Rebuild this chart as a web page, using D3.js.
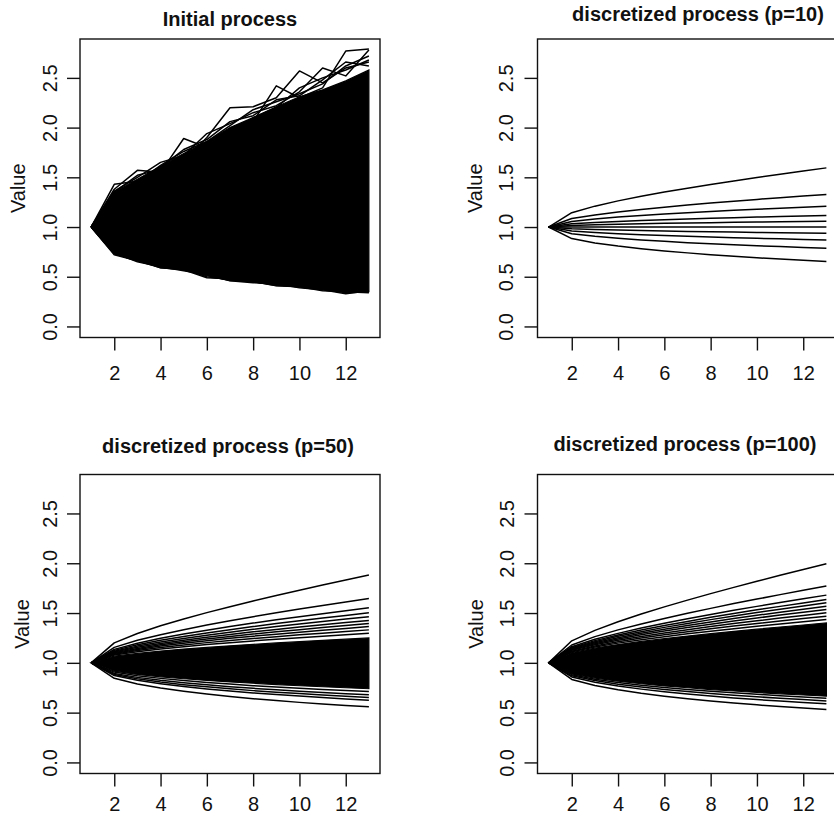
<!DOCTYPE html>
<html><head><meta charset="utf-8">
<script src="https://cdn.jsdelivr.net/npm/d3@7"></script>
<style>
body{margin:0;background:#fff;}
svg{display:block;}
text{font-family:"Liberation Sans",Arial,Helvetica,sans-serif;fill:#111;}
</style>
</head><body>
<svg id="chart" width="834" height="817"></svg>
<script>
// ---------------- DATA ----------------
const timeSteps = [1,2,3,4,5,6,7,8,9,10,11,12,13];
const xTicks = [2,4,6,8,10,12];
const yTicks = [0,0.5,1,1.5,2,2.5];
const yLimits = [0, 2.78];
const titles = ["Initial process","discretized process (p=10)","discretized process (p=50)","discretized process (p=100)"];
const yAxisLabel = "Value";

// Initial process: dense mass of simulated paths (envelope) + visible outlying paths
const initialUpper = [1.00,1.35,1.48,1.61,1.74,1.86,2.00,2.10,2.21,2.31,2.38,2.47,2.58];
const initialLower = [1.00,0.73,0.66,0.59,0.57,0.51,0.46,0.45,0.41,0.40,0.37,0.35,0.35];
const initialPaths = [
  [1.00,1.43,1.46,1.57,1.66,1.90,2.20,2.21,2.30,2.57,2.45,2.60,2.66],
  [1.00,1.38,1.57,1.55,1.89,1.80,1.98,2.06,2.42,2.30,2.40,2.77,2.79],
  [1.00,1.36,1.50,1.65,1.72,1.94,2.04,2.15,2.22,2.36,2.60,2.52,2.78],
  [1.00,1.33,1.45,1.62,1.76,1.86,2.02,2.18,2.26,2.34,2.44,2.62,2.72],
  [1.00,1.35,1.52,1.58,1.70,1.84,1.95,2.10,2.20,2.40,2.50,2.58,2.68],
  [1.00,1.32,1.46,1.60,1.78,1.88,2.06,2.12,2.28,2.32,2.48,2.66,2.62],
  [1.00,0.72,0.66,0.61,0.58,0.50,0.47,0.45,0.42,0.40,0.38,0.34,0.35],
  [1.00,0.74,0.65,0.60,0.56,0.52,0.46,0.44,0.43,0.39,0.37,0.33,0.36],
  [1.00,0.73,0.67,0.59,0.57,0.49,0.48,0.45,0.41,0.40,0.36,0.35,0.34]
];

// discretized process (p=10): the 10 quantizer paths
const p10Paths = [
  [1,1.144,1.210,1.263,1.309,1.352,1.391,1.428,1.464,1.498,1.531,1.564,1.595],
  [1,1.085,1.122,1.152,1.177,1.200,1.221,1.241,1.260,1.278,1.295,1.311,1.327],
  [1,1.056,1.081,1.100,1.116,1.130,1.144,1.156,1.168,1.179,1.189,1.199,1.209],
  [1,1.032,1.046,1.056,1.065,1.073,1.081,1.088,1.094,1.100,1.105,1.111,1.116],
  [1,1.016,1.023,1.029,1.033,1.037,1.041,1.044,1.047,1.050,1.053,1.055,1.058],
  [1,1.000,1.000,1.000,1.000,1.000,1.000,1.000,1.000,1.000,1.000,1.000,1.000],
  [1,0.982,0.974,0.969,0.964,0.960,0.956,0.952,0.949,0.946,0.943,0.941,0.938],
  [1,0.961,0.945,0.933,0.923,0.914,0.906,0.899,0.893,0.886,0.881,0.875,0.870],
  [1,0.933,0.906,0.887,0.870,0.856,0.843,0.832,0.822,0.812,0.803,0.794,0.786],
  [1,0.884,0.840,0.808,0.782,0.760,0.740,0.722,0.706,0.691,0.678,0.665,0.653]
];

// discretized process (p=50): dense central band + distinct outer paths
const p50BandUpper = [1,1.067,1.095,1.118,1.138,1.155,1.171,1.186,1.200,1.213,1.226,1.238,1.250];
const p50BandLower = [1,0.917,0.884,0.860,0.840,0.823,0.808,0.795,0.782,0.770,0.760,0.750,0.740];
const p50Paths = [
  [1,1.200,1.295,1.372,1.441,1.504,1.564,1.621,1.676,1.729,1.781,1.832,1.882],
  [1,1.155,1.226,1.283,1.333,1.380,1.422,1.463,1.502,1.540,1.576,1.611,1.646],
  [1,1.135,1.197,1.246,1.289,1.328,1.365,1.399,1.432,1.463,1.494,1.523,1.552],
  [1,1.125,1.181,1.226,1.265,1.300,1.333,1.364,1.394,1.422,1.450,1.476,1.502],
  [1,1.116,1.168,1.209,1.245,1.278,1.308,1.337,1.364,1.389,1.414,1.439,1.462],
  [1,1.108,1.156,1.194,1.227,1.257,1.285,1.311,1.335,1.359,1.382,1.404,1.425],
  [1,1.101,1.145,1.181,1.211,1.239,1.265,1.289,1.312,1.333,1.354,1.374,1.394],
  [1,1.094,1.135,1.168,1.196,1.222,1.246,1.268,1.288,1.308,1.328,1.346,1.364],
  [1,1.086,1.124,1.154,1.180,1.203,1.224,1.244,1.263,1.281,1.298,1.315,1.331],
  [1,1.078,1.112,1.139,1.162,1.183,1.202,1.220,1.237,1.253,1.268,1.283,1.297],
  [1,0.907,0.871,0.844,0.822,0.803,0.787,0.771,0.758,0.745,0.733,0.722,0.712],
  [1,0.894,0.854,0.824,0.800,0.779,0.761,0.744,0.729,0.715,0.702,0.690,0.679],
  [1,0.884,0.840,0.807,0.781,0.759,0.739,0.721,0.705,0.691,0.677,0.664,0.652],
  [1,0.873,0.825,0.791,0.762,0.738,0.717,0.698,0.681,0.666,0.651,0.638,0.625],
  [1,0.845,0.788,0.747,0.714,0.686,0.662,0.640,0.621,0.603,0.587,0.572,0.558]
];

// discretized process (p=100): dense central band + distinct outer paths
const p100BandUpper = [1,1.102,1.147,1.183,1.215,1.243,1.269,1.293,1.316,1.338,1.360,1.380,1.400];
const p100BandLower = [1,0.889,0.847,0.816,0.790,0.768,0.750,0.732,0.717,0.702,0.689,0.677,0.665];
const p100Paths = [
  [1,1.221,1.326,1.413,1.490,1.562,1.630,1.695,1.758,1.819,1.879,1.938,1.996],
  [1,1.179,1.263,1.331,1.391,1.446,1.498,1.547,1.595,1.640,1.685,1.728,1.771],
  [1,1.162,1.236,1.296,1.349,1.398,1.443,1.486,1.527,1.567,1.606,1.643,1.680],
  [1,1.153,1.223,1.279,1.329,1.374,1.416,1.457,1.495,1.532,1.567,1.602,1.636],
  [1,1.146,1.212,1.266,1.313,1.356,1.396,1.434,1.470,1.505,1.539,1.571,1.603],
  [1,1.139,1.202,1.253,1.297,1.337,1.375,1.411,1.445,1.477,1.509,1.539,1.569],
  [1,1.132,1.192,1.239,1.281,1.319,1.355,1.388,1.420,1.450,1.480,1.508,1.536],
  [1,1.125,1.181,1.226,1.265,1.300,1.333,1.364,1.394,1.422,1.450,1.476,1.502],
  [1,1.117,1.170,1.212,1.249,1.282,1.313,1.342,1.369,1.395,1.421,1.445,1.469],
  [1,1.110,1.159,1.198,1.232,1.263,1.291,1.318,1.343,1.367,1.391,1.413,1.435],
  [1,0.881,0.836,0.803,0.776,0.753,0.733,0.715,0.699,0.684,0.670,0.657,0.645],
  [1,0.870,0.822,0.786,0.757,0.733,0.712,0.692,0.675,0.659,0.644,0.631,0.618],
  [1,0.858,0.805,0.767,0.736,0.710,0.687,0.667,0.648,0.631,0.616,0.602,0.588],
  [1,0.833,0.772,0.729,0.694,0.665,0.639,0.617,0.596,0.578,0.561,0.546,0.531]
];

// ---------------- LAYOUT ----------------
const panels = [
  {title:titles[0], l:80,    t:39,    r:380,   b:337.5, titleX:230, titleY:26,  xLabDy:35, yLabDx:-30, valDx:-62.5,
   upper:initialUpper, lower:initialLower, paths:initialPaths},
  {title:titles[1], l:537.5, t:39,    r:837.5, b:337.5, titleX:698, titleY:21,  xLabDy:35, yLabDx:-32, valDx:-62.5,
   upper:null, lower:null, paths:p10Paths},
  {title:titles[2], l:80,    t:474.5, r:380,   b:773.5, titleX:228, titleY:452.5, xLabDy:30, yLabDx:-30, valDx:-58.5,
   upper:p50BandUpper, lower:p50BandLower, paths:p50Paths},
  {title:titles[3], l:537.5, t:474.5, r:837.5, b:773.5, titleX:685, titleY:451, xLabDy:30, yLabDx:-31, valDx:-62,
   upper:p100BandUpper, lower:p100BandLower, paths:p100Paths}
];

const svg = d3.select("#chart");
const tExt = d3.extent(timeSteps);
const tPad = 0.04 * (tExt[1] - tExt[0]);
const yPad = 0.04 * (yLimits[1] - yLimits[0]);

panels.forEach((p, i) => {
  const x = d3.scaleLinear().domain([tExt[0] - tPad, tExt[1] + tPad]).range([p.l, p.r]);
  const y = d3.scaleLinear().domain([yLimits[0] - yPad, yLimits[1] + yPad]).range([p.b, p.t]);
  const g = svg.append("g");

  g.append("clipPath").attr("id", "clip" + i)
    .append("rect").attr("x", p.l).attr("y", p.t).attr("width", p.r - p.l).attr("height", p.b - p.t);

  const plot = g.append("g").attr("clip-path", `url(#clip${i})`);

  if (p.upper) {
    const band = timeSteps.map((t, k) => ({t, lo: p.lower[k], hi: p.upper[k]}));
    plot.append("path").datum(band)
      .attr("d", d3.area().x(d => x(d.t)).y0(d => y(d.lo)).y1(d => y(d.hi)))
      .attr("fill", "#000").attr("stroke", "#000").attr("stroke-width", 1.2);
  }

  const line = d3.line().x((d, k) => x(timeSteps[k])).y(d => y(d));
  plot.selectAll("path.series").data(p.paths).join("path")
    .attr("class", "series")
    .attr("d", line)
    .attr("fill", "none").attr("stroke", "#000").attr("stroke-width", 1.5)
    .attr("stroke-linejoin", "round");

  // box
  g.append("rect").attr("x", p.l).attr("y", p.t).attr("width", p.r - p.l).attr("height", p.b - p.t)
    .attr("fill", "none").attr("stroke", "#111").attr("stroke-width", 1.4);

  // x axis
  const xa = g.append("g").attr("transform", `translate(0,${p.b})`)
    .call(d3.axisBottom(x).tickValues(xTicks).tickSize(13).tickFormat(d3.format("d")));
  xa.select(".domain").remove();
  xa.selectAll(".tick line").attr("stroke", "#111").attr("stroke-width", 1.4);
  xa.selectAll(".tick text").attr("y", p.xLabDy).attr("dy", "0.35em")
    .attr("font-size", 20).attr("fill", "#111")
    .style("font-family", '"Liberation Sans", Arial, sans-serif');

  // y axis
  const ya = g.append("g").attr("transform", `translate(${p.l},0)`)
    .call(d3.axisLeft(y).tickValues(yTicks).tickSize(13).tickFormat(d3.format(".1f")));
  ya.select(".domain").remove();
  ya.selectAll(".tick line").attr("stroke", "#111").attr("stroke-width", 1.4);
  ya.selectAll(".tick text")
    .attr("x", null).attr("dy", "0.35em").attr("text-anchor", "middle")
    .attr("transform", `translate(${p.yLabDx},0) rotate(-90)`)
    .attr("font-size", 20).attr("fill", "#111")
    .style("font-family", '"Liberation Sans", Arial, sans-serif');

  // y axis title
  g.append("text")
    .attr("transform", `translate(${p.l + p.valDx},${(p.t + p.b) / 2}) rotate(-90)`)
    .attr("text-anchor", "middle").attr("dy", "0.35em")
    .attr("font-size", 20).text(yAxisLabel);

  // main title
  g.append("text").attr("x", p.titleX).attr("y", p.titleY)
    .attr("text-anchor", "middle").attr("font-size", 20).attr("font-weight", "bold")
    .text(p.title);
});
</script>
</body></html>
